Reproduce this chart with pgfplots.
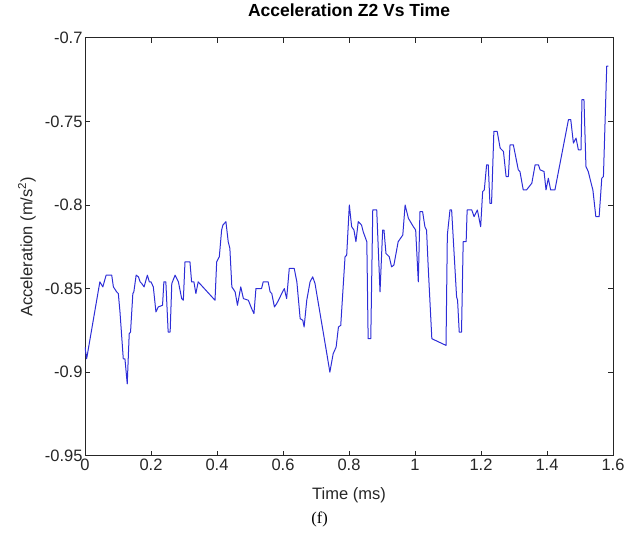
\documentclass[border=0pt]{standalone}
\usepackage{pgfplots}
\pgfplotsset{compat=1.18}
\usepackage{fontspec}
\setmainfont{Liberation Sans}
\newfontfamily\seriffont{Liberation Serif}
\definecolor{mblue}{RGB}{45,45,215}
\definecolor{axgray}{gray}{0.15}
\begin{document}
\begin{tikzpicture}
\begin{axis}[
  scale only axis, width=528pt, height=418pt,
  xmin=0, xmax=1.6, ymin=-0.95, ymax=-0.7,
  xtick={0,0.2,0.4,0.6,0.8,1,1.2,1.4,1.6},
  xticklabels={0,0.2,0.4,0.6,0.8,1,1.2,1.4,1.6},
  ytick={-0.95,-0.9,-0.85,-0.8,-0.75,-0.7},
  yticklabels={-0.95,-0.9,-0.85,-0.8,-0.75,-0.7},
  tick align=inside, major tick length=5pt,
  axis line style={axgray, line width=0.6pt},
  tick style={axgray, line width=0.6pt},
  ticklabel style={font=\fontsize{16.5}{19}\selectfont, text=axgray},
  yticklabel style={xshift=1pt},
  title={Acceleration Z2 Vs Time},
  title style={font=\bfseries\fontsize{17.5}{20}\selectfont, at={(axis description cs:0.5,1.0526)}, anchor=center},
  xlabel={Time (ms)},
  xlabel style={font=\fontsize{16.5}{19}\selectfont, text=axgray, at={(axis description cs:0.5,-0.094)}, anchor=center},
  ylabel={Acceleration (m/s\textsuperscript{2})},
  ylabel style={font=\fontsize{16.5}{19}\selectfont, text=axgray, at={(axis description cs:-0.1098,0.5)}, anchor=center},
]
\addplot[mblue, line width=1pt, line join=round] coordinates {
(0.000,-0.885) (0.005,-0.892) (0.045,-0.846) (0.054,-0.849) (0.064,-0.842)
(0.081,-0.842) (0.086,-0.849) (0.096,-0.852) (0.101,-0.853) (0.106,-0.864)
(0.116,-0.892) (0.121,-0.892) (0.128,-0.907) (0.134,-0.877) (0.138,-0.876)
(0.145,-0.853) (0.148,-0.852) (0.155,-0.842) (0.162,-0.843) (0.167,-0.846)
(0.172,-0.847) (0.179,-0.849) (0.189,-0.842) (0.195,-0.846) (0.200,-0.846)
(0.207,-0.849) (0.215,-0.864) (0.222,-0.861) (0.235,-0.860) (0.239,-0.846)
(0.245,-0.846) (0.248,-0.859) (0.252,-0.876) (0.258,-0.876) (0.263,-0.847)
(0.273,-0.842) (0.283,-0.846) (0.293,-0.856) (0.298,-0.857) (0.303,-0.834)
(0.318,-0.834) (0.323,-0.846) (0.330,-0.846) (0.336,-0.853) (0.343,-0.846)
(0.394,-0.857) (0.399,-0.834) (0.407,-0.831) (0.414,-0.815) (0.418,-0.812)
(0.427,-0.810) (0.434,-0.822) (0.439,-0.826) (0.445,-0.849) (0.455,-0.852)
(0.462,-0.860) (0.472,-0.849) (0.480,-0.856) (0.495,-0.857) (0.505,-0.862)
(0.512,-0.865) (0.518,-0.850) (0.535,-0.850) (0.540,-0.846) (0.555,-0.846)
(0.561,-0.852) (0.566,-0.853) (0.574,-0.861) (0.581,-0.859) (0.589,-0.856)
(0.596,-0.853) (0.604,-0.850) (0.611,-0.856) (0.619,-0.838) (0.634,-0.838)
(0.642,-0.846) (0.652,-0.868) (0.660,-0.869) (0.664,-0.873) (0.672,-0.857)
(0.682,-0.846) (0.690,-0.843) (0.697,-0.847) (0.732,-0.888) (0.742,-0.900)
(0.752,-0.889) (0.761,-0.885) (0.768,-0.873) (0.775,-0.872) (0.788,-0.831)
(0.793,-0.830) (0.801,-0.800) (0.808,-0.813) (0.815,-0.815) (0.821,-0.822)
(0.828,-0.810) (0.838,-0.812) (0.843,-0.816) (0.854,-0.822) (0.858,-0.880)
(0.866,-0.880) (0.872,-0.803) (0.884,-0.803) (0.894,-0.852) (0.902,-0.815)
(0.906,-0.815) (0.912,-0.829) (0.922,-0.831) (0.929,-0.837) (0.936,-0.836)
(0.949,-0.822) (0.963,-0.818) (0.970,-0.800) (0.980,-0.808) (0.995,-0.813)
(1.002,-0.815) (1.010,-0.846) (1.015,-0.804) (1.023,-0.804) (1.030,-0.813)
(1.035,-0.815) (1.040,-0.837) (1.051,-0.880) (1.094,-0.884) (1.098,-0.818)
(1.106,-0.803) (1.111,-0.803) (1.126,-0.855) (1.129,-0.857) (1.134,-0.876)
(1.141,-0.876) (1.146,-0.822) (1.155,-0.822) (1.158,-0.803) (1.172,-0.803)
(1.179,-0.807) (1.189,-0.803) (1.199,-0.813) (1.205,-0.792) (1.210,-0.791)
(1.217,-0.776) (1.222,-0.776) (1.227,-0.799) (1.232,-0.799) (1.239,-0.756)
(1.249,-0.756) (1.258,-0.766) (1.268,-0.768) (1.276,-0.783) (1.283,-0.783)
(1.288,-0.764) (1.298,-0.764) (1.306,-0.772) (1.313,-0.779) (1.318,-0.780)
(1.328,-0.791) (1.338,-0.791) (1.354,-0.787) (1.364,-0.776) (1.374,-0.776)
(1.379,-0.779) (1.391,-0.780) (1.397,-0.791) (1.404,-0.784) (1.411,-0.791)
(1.424,-0.791) (1.465,-0.749) (1.472,-0.749) (1.480,-0.763) (1.488,-0.760)
(1.495,-0.767) (1.503,-0.767) (1.506,-0.737) (1.512,-0.737) (1.518,-0.777)
(1.525,-0.780) (1.535,-0.788) (1.539,-0.791) (1.548,-0.807) (1.558,-0.807)
(1.566,-0.784) (1.571,-0.783) (1.581,-0.717) (1.586,-0.717)
};
\end{axis}
\node[font=\seriffont\fontsize{16.5}{19}\selectfont] at ([shift={(-29.5pt,-64pt)}]current axis.south) {(f)};
\path ([shift={(-85pt,-84.3pt)}]current axis.south west) rectangle ([shift={(26pt,33.3pt)}]current axis.north east);
\end{tikzpicture}
\end{document}
